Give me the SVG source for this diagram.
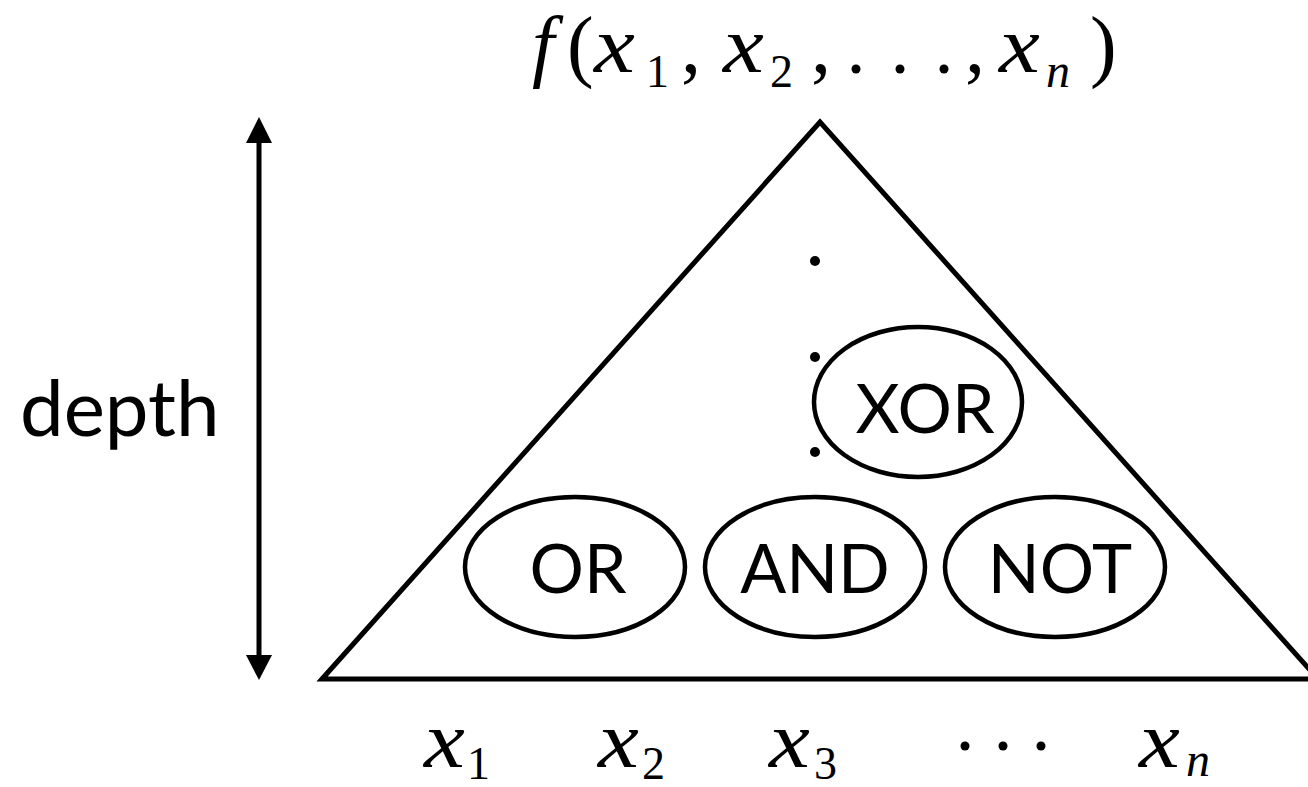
<svg xmlns="http://www.w3.org/2000/svg" width="1308" height="787" viewBox="0 0 1308 787">
<style>
.sans{font-family:Lato,"Open Sans","Liberation Sans",sans-serif;font-size:78px;fill:#000}
.gate{font-family:Lato,"Open Sans","Liberation Sans",sans-serif;font-size:68px;fill:#000;text-anchor:middle}
.mi{font-family:'Liberation Serif','Times New Roman',Times,serif;font-style:italic;font-size:80px;fill:#000}
.mr{font-family:'Liberation Serif','Times New Roman',Times,serif;font-style:normal;font-size:80px;fill:#000}
.sub{font-family:'Liberation Serif','Times New Roman',Times,serif;font-style:normal;font-size:46px;fill:#000}
.subi{font-family:'Liberation Serif','Times New Roman',Times,serif;font-style:italic;font-size:48px;fill:#000}
.ln{fill:none;stroke:#000;stroke-width:5}
.el{fill:none;stroke:#000;stroke-width:4.5}
</style>
<rect width="1308" height="787" fill="#fff"/>
<g id="connectors">
<line x1="259" y1="140" x2="259" y2="658" stroke="#000" stroke-width="5"/>
<polygon points="259,117 246,143 272,143" fill="#000"/>
<polygon points="259,680 246,655 272,655" fill="#000"/>
</g>
<g id="triangle">
<path class="ln" d="M322,679 L820,122 L1318,679 Z"/>
</g>
<g id="dots">
<circle cx="815" cy="261" r="5"/>
<circle cx="815" cy="357" r="5"/>
<circle cx="815" cy="452" r="5"/>
</g>
<g id="xor">
<ellipse class="el" cx="918" cy="402" rx="104" ry="75"/>
<text class="gate" x="925" y="433">XOR</text>
</g>
<g id="or">
<ellipse class="el" cx="575" cy="567" rx="110" ry="70"/>
<text class="gate" x="578" y="593">OR</text>
</g>
<g id="and">
<ellipse class="el" cx="815" cy="567" rx="110" ry="70"/>
<text class="gate" x="815" y="593">AND</text>
</g>
<g id="not">
<ellipse class="el" cx="1055" cy="567" rx="110" ry="70"/>
<text class="gate" x="1060" y="593">NOT</text>
</g>
<g id="depth">
<text class="sans" x="20" y="436">depth</text>
</g>
<g id="title">
<text class="mi" x="532" y="72">f</text>
<text class="mr" x="567" y="72">(</text>
<text class="mi" transform="translate(594,72) scale(1.15,1)">x</text>
<text class="sub" x="646" y="87">1</text>
<text class="mr" x="681" y="72">,</text>
<text class="mi" transform="translate(723,72) scale(1.15,1)">x</text>
<text class="sub" x="770" y="87">2</text>
<text class="mr" x="811" y="72">,</text>
<circle cx="856" cy="69" r="4.5"/>
<circle cx="900" cy="69" r="4.5"/>
<circle cx="944" cy="69" r="4.5"/>
<text class="mr" x="965" y="72">,</text>
<text class="mi" transform="translate(999,72) scale(1.15,1)">x</text>
<text class="subi" x="1046" y="87">n</text>
<text class="mr" x="1090" y="72">)</text>
</g>
<g id="inputs">
<text class="mi" transform="translate(424,767) scale(1.15,1)">x</text>
<text class="sub" x="467" y="779">1</text>
<text class="mi" transform="translate(598,767) scale(1.15,1)">x</text>
<text class="sub" x="642" y="779">2</text>
<text class="mi" transform="translate(769,767) scale(1.15,1)">x</text>
<text class="sub" x="814" y="779">3</text>
<circle cx="965" cy="746" r="4.5"/>
<circle cx="1003" cy="746" r="4.5"/>
<circle cx="1041" cy="746" r="4.5"/>
<text class="mi" transform="translate(1139,767) scale(1.15,1)">x</text>
<text class="subi" x="1186" y="776">n</text>
</g>
</svg>
